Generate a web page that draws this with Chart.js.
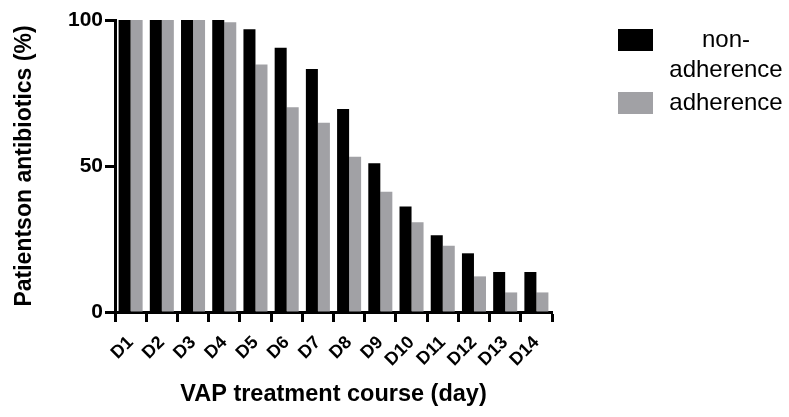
<!DOCTYPE html>
<html>
<head>
<meta charset="utf-8">
<script src="https://cdn.jsdelivr.net/npm/chart.js@4"></script>
<style>
  html, body { margin: 0; padding: 0; background: #fff; }
  #wrap { width: 789px; height: 417px; }
</style>
</head>
<body>
<div id="wrap"><canvas id="chart" width="789" height="417"></canvas></div>
<script>
// data
const days = ['D1', 'D2', 'D3', 'D4', 'D5', 'D6', 'D7', 'D8', 'D9', 'D10', 'D11', 'D12', 'D13', 'D14'];
const nonAdherence = [100, 100, 100, 100, 96.8, 90.5, 83.2, 69.5, 50.9, 36.1, 26.3, 20.1, 13.7, 13.7];
const adherence = [100, 100, 100, 99.2, 84.8, 70.1, 64.8, 53.2, 41.2, 30.7, 22.7, 12.2, 6.7, 6.7];
const yTicks = [0, 50, 100];

const GREY = '#a1a1a5';
const FONT = '"Liberation Sans", Arial, Helvetica, sans-serif';

// legend drawn to the right, with the wrapped "non-\nadherence" label
const sideLegend = {
    id: 'sideLegend',
    afterDraw(chart) {
        const ctx = chart.ctx;
        ctx.save();
        ctx.font = '24px ' + FONT;
        ctx.textAlign = 'center';
        ctx.textBaseline = 'middle';
        const rows = [
            { lines: ['non-', 'adherence'], boxY: 29, textY: 40 },
            { lines: ['adherence'], boxY: 92, textY: 103 }
        ];
        chart.data.datasets.forEach((ds, i) => {
            const r = rows[i];
            ctx.fillStyle = ds.backgroundColor;
            ctx.fillRect(618, r.boxY, 35, 22);
            ctx.fillStyle = '#000';
            r.lines.forEach((t, j) => ctx.fillText(t, 726, r.textY + j * 30));
        });
        ctx.restore();
    }
};

new Chart(document.getElementById('chart'), {
    type: 'bar',
    data: {
        labels: days,
        datasets: [
            { label: 'non-adherence', data: nonAdherence, backgroundColor: '#000', categoryPercentage: 0.77, barPercentage: 1.0 },
            { label: 'adherence', data: adherence, backgroundColor: GREY, categoryPercentage: 0.77, barPercentage: 1.0 }
        ]
    },
    options: {
        responsive: false,
        animation: false,
        layout: { padding: { top: 20, right: 237, left: 0, bottom: 0 } },
        plugins: { legend: { display: false }, tooltip: { enabled: false } },
        scales: {
            x: {
                grid: { display: true, drawOnChartArea: false, drawTicks: true, tickLength: 10, tickWidth: 3, color: '#000' },
                border: { display: true, width: 3, color: '#000' },
                ticks: { color: '#000', font: { family: FONT, size: 18, weight: 'bold' }, minRotation: 45, maxRotation: 45, autoSkip: false, padding: 10 },
                title: { display: true, text: 'VAP treatment course (day)', color: '#000', font: { family: FONT, size: 23.5, weight: 'bold' }, padding: { top: 0, bottom: 8 } },
                afterFit(scale) { scale.height = 105; }
            },
            y: {
                min: 0, max: 100,
                afterBuildTicks(scale) { scale.ticks = yTicks.map(v => ({ value: v })); },
                grid: { display: true, drawOnChartArea: false, drawTicks: true, tickLength: 10, tickWidth: 3, color: '#000' },
                border: { display: true, width: 3, color: '#000' },
                ticks: { color: '#000', font: { family: FONT, size: 21, weight: 'bold' }, padding: 2 },
                title: { display: true, text: 'Patientson antibiotics (%)', color: '#000', font: { family: FONT, size: 23, weight: 'bold' }, padding: { top: 11, bottom: 0 } },
                afterFit(scale) { scale.width = 115; }
            }
        }
    },
    plugins: [sideLegend]
});
</script>
</body>
</html>
